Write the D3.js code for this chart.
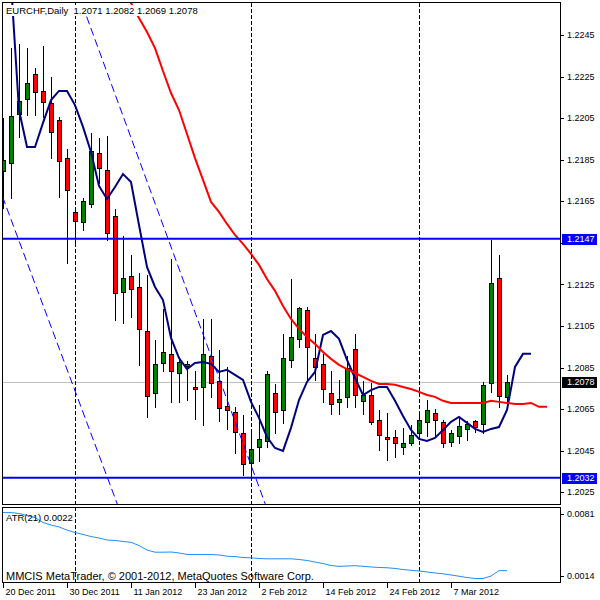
<!DOCTYPE html>
<html>
<head>
<meta charset="utf-8">
<script src="https://cdn.jsdelivr.net/npm/d3@7"></script>
<style>
  body { margin: 0; background: #fff; }
  svg text { font-family: "Liberation Sans", Arial, sans-serif; }
</style>
</head>
<body>
<div id="chart"></div>
<script>
// EURCHF daily bars starting 20 Dec 2011 (one entry per bar)
const opens = [1.21796, 1.21834, 1.2207, 1.22142, 1.22262, 1.22181, 1.22123, 1.22041, 1.21858, 1.21599,
  1.21551, 1.21637, 1.21882, 1.21801, 1.21579, 1.21214, 1.21291, 1.21238, 1.21026, 1.20728,
  1.20872, 1.20916, 1.20824, 1.20868, 1.20757, 1.20757, 1.20906, 1.20786, 1.20666, 1.20637,
  1.20536, 1.20391, 1.20468, 1.20497, 1.20728, 1.20646, 1.20887, 1.20988, 1.21127, 1.20897,
  1.20868, 1.20728, 1.20685, 1.20709, 1.2094, 1.2069, 1.20718, 1.20598, 1.20516, 1.20516,
  1.20468, 1.20488, 1.20536, 1.20589, 1.20632, 1.20589, 1.20492, 1.20521, 1.20555, 1.20593,
  1.20579, 1.20776, 1.21281, 1.2071];
const highs = [1.22056, 1.22392, 1.22412, 1.22392, 1.22296, 1.22402, 1.22253, 1.2206, 1.21907, 1.21628,
  1.21671, 1.21983, 1.21959, 1.21969, 1.21618, 1.21488, 1.21397, 1.2131, 1.213, 1.20988,
  1.21137, 1.21377, 1.20906, 1.20887, 1.20839, 1.21089, 1.21089, 1.2094, 1.20858, 1.20666,
  1.20627, 1.20555, 1.20675, 1.20839, 1.20776, 1.21017, 1.21281, 1.21146, 1.21146, 1.21017,
  1.2092, 1.20839, 1.20795, 1.20911, 1.21017, 1.20791, 1.20781, 1.20651, 1.20637, 1.20555,
  1.20564, 1.20579, 1.20646, 1.20699, 1.20656, 1.20603, 1.20555, 1.20613, 1.20598, 1.20603,
  1.20786, 1.2147, 1.21397, 1.2082];
const lows = [1.21618, 1.21666, 1.21959, 1.22065, 1.22065, 1.22056, 1.21858, 1.21671, 1.21353, 1.2145,
  1.21512, 1.21623, 1.21738, 1.21464, 1.21079, 1.21065, 1.21094, 1.20863, 1.20613, 1.20661,
  1.20834, 1.20685, 1.20685, 1.20694, 1.20603, 1.20574, 1.20709, 1.20593, 1.20555, 1.20439,
  1.20334, 1.2032, 1.20401, 1.20468, 1.20536, 1.20584, 1.20853, 1.20949, 1.20791, 1.20791,
  1.20685, 1.20627, 1.20627, 1.20661, 1.20661, 1.20627, 1.20579, 1.20454, 1.20406, 1.2042,
  1.20435, 1.20478, 1.20516, 1.20521, 1.20521, 1.20468, 1.20473, 1.20488, 1.20502, 1.2054,
  1.20536, 1.20733, 1.20661, 1.2069];
const closes = [1.21849, 1.2206, 1.22133, 1.22219, 1.22176, 1.22128, 1.21983, 1.21844, 1.21704, 1.21555,
  1.21652, 1.21892, 1.2181, 1.21498, 1.21209, 1.21281, 1.21228, 1.21036, 1.20714, 1.20868,
  1.20925, 1.20834, 1.20877, 1.20858, 1.20747, 1.20916, 1.20776, 1.20656, 1.20646, 1.2054,
  1.20387, 1.20459, 1.20507, 1.20819, 1.20637, 1.20897, 1.20997, 1.21137, 1.20949, 1.20853,
  1.20747, 1.20675, 1.20699, 1.20848, 1.20718, 1.20718, 1.20589, 1.20526, 1.20507, 1.20488,
  1.20488, 1.20526, 1.20598, 1.20646, 1.20598, 1.20488, 1.20536, 1.20569, 1.20579, 1.20564,
  1.20767, 1.21257, 1.20714, 1.2078];

// moving averages (navy one runs 3 bars past the last bar, red one 5 bars)
const maFast = [1.22907, 1.227, 1.22089, 1.21911, 1.21911, 1.22027, 1.22137, 1.22181, 1.22181, 1.22113,
  1.22008, 1.21887, 1.21724, 1.21661, 1.21719, 1.21781, 1.21743, 1.21536, 1.21334, 1.21238,
  1.21175, 1.20993, 1.20896, 1.20843, 1.20872, 1.20877, 1.20868, 1.20829, 1.20839, 1.20815,
  1.20791, 1.20685, 1.20608, 1.20516, 1.20463, 1.20449, 1.2056, 1.20694, 1.20781, 1.20829,
  1.21007, 1.21026, 1.20988, 1.20887, 1.208, 1.20718, 1.20742, 1.20757, 1.20757, 1.2069,
  1.20617, 1.2055, 1.20507, 1.20497, 1.20512, 1.2055, 1.20589, 1.20613, 1.20584, 1.20555,
  1.2054, 1.20555, 1.20564, 1.20646, 1.20853, 1.20916, 1.20916];
const maSlowStart = 15;
const maSlow = [1.22681, 1.22604, 1.22532, 1.22464, 1.22387, 1.22277, 1.22171, 1.22089, 1.21974, 1.21858,
  1.21753, 1.21647, 1.21599, 1.21541, 1.21488, 1.21445, 1.21397, 1.21344, 1.21276, 1.21219,
  1.21146, 1.21084, 1.21036, 1.20997, 1.20964, 1.20925, 1.20892, 1.20863, 1.20843, 1.20824,
  1.20805, 1.20786, 1.20771, 1.20771, 1.20767, 1.20757, 1.20747, 1.20733, 1.20718, 1.20709,
  1.2069, 1.2068, 1.2068, 1.2068, 1.2068, 1.2068, 1.2069, 1.20685, 1.2068, 1.20675,
  1.20675, 1.2068, 1.20661, 1.20661];

// ATR(21)
const atr = [0.00809, 0.00809, 0.0080, 0.0078, 0.00758, 0.00708, 0.00683, 0.00663, 0.00632, 0.00607,
  0.00587, 0.00566, 0.00551, 0.00531, 0.00526, 0.00516, 0.00507, 0.00475, 0.00429, 0.00407,
  0.00407, 0.00409, 0.00399, 0.00384, 0.00384, 0.00384, 0.00384, 0.00379, 0.00366, 0.00363,
  0.00353, 0.0035, 0.00343, 0.0034, 0.0034, 0.0034, 0.0034, 0.00333, 0.00323, 0.00307,
  0.00292, 0.00272, 0.00263, 0.00267, 0.0027, 0.00264, 0.00257, 0.00252, 0.00249, 0.00242,
  0.00231, 0.00223, 0.00216, 0.00206, 0.00196, 0.00188, 0.00176, 0.00163, 0.0015, 0.0014,
  0.0014, 0.00165, 0.0022, 0.0022];

// axis labels and objects
const dateLabels = ["20 Dec 2011", "30 Dec 2011", "11 Jan 2012", "23 Jan 2012", "2 Feb 2012", "14 Feb 2012", "24 Feb 2012", "7 Mar 2012"];
const dateLabelBars = [0, 8, 16, 24, 32, 40, 48, 56];
const separatorBars = [9, 31, 52];
const priceTicks = [1.2025, 1.2045, 1.2065, 1.2085, 1.2105, 1.2125, 1.2145, 1.2165, 1.2185, 1.2205, 1.2225, 1.2245];
const levels = [1.2147, 1.2032];
const bid = 1.2078;
const channelA = [[10, 1.22586], [32, 1.20276]];
const channelB = [[0, 1.21666], [14, 1.20223]];
const atrTicks = [0.0081, 0.0014];
const title = "EURCHF,Daily  1.2071 1.2082 1.2069 1.2078";

const width = 600, height = 600;
const left = 2, right = 560, mainTop = 2, mainBottom = 504, subTop = 507, subBottom = 582;

const svg = d3.select("#chart")
  .append("svg")
  .attr("width", width)
  .attr("height", height)
  .style("display", "block");

// scales
const x = d3.scaleLinear().domain([0, 63]).range([3, 507]);
const px = (i) => Math.round(x(i)) + 0.5;
const y = d3.scaleLinear().domain([1.2025, 1.2245]).range([492.3, 35]);
const ya = d3.scaleLinear().domain([0.0014, 0.0081]).range([578.5, 512.5]);
const py = (v) => Math.round(y(v)) + 0.5;

svg.append("clipPath").attr("id", "clipMain")
  .append("rect").attr("x", left + 1).attr("y", mainTop + 1)
  .attr("width", right - left - 1).attr("height", mainBottom - mainTop - 1);
svg.append("clipPath").attr("id", "clipSub")
  .append("rect").attr("x", left + 1).attr("y", subTop + 1)
  .attr("width", right - left - 1).attr("height", subBottom - subTop - 1);

const main = svg.append("g").attr("clip-path", "url(#clipMain)");

// bid line (behind bars)
main.append("line")
  .attr("x1", left).attr("x2", right)
  .attr("y1", py(bid)).attr("y2", py(bid))
  .attr("stroke", "#c0c0c0").attr("shape-rendering", "crispEdges");

// candles
const bars = d3.range(opens.length).map((i) => ({
  i: i, o: opens[i], h: highs[i], l: lows[i], c: closes[i]
}));

main.selectAll(".wick")
  .data(bars)
  .enter()
  .append("line")
  .attr("x1", (d) => px(d.i)).attr("x2", (d) => px(d.i))
  .attr("y1", (d) => py(d.h)).attr("y2", (d) => py(d.l))
  .attr("stroke", "black")
  .attr("shape-rendering", "crispEdges");

main.selectAll(".body")
  .data(bars)
  .enter()
  .append("rect")
  .attr("x", (d) => px(d.i) - 2)
  .attr("y", (d) => py(Math.max(d.o, d.c)))
  .attr("width", 4)
  .attr("height", (d) => py(Math.min(d.o, d.c)) - py(Math.max(d.o, d.c)))
  .attr("fill", (d) => d.c > d.o ? "#008000" : "#ff0000")
  .attr("stroke", "black")
  .attr("shape-rendering", "crispEdges");

// moving averages
const lineFast = d3.line().x((d, i) => x(i)).y((d) => y(d));
main.append("path")
  .attr("d", lineFast(maFast))
  .attr("fill", "none").attr("stroke", "#000080").attr("stroke-width", 2);

const lineSlow = d3.line().x((d, i) => x(i + maSlowStart)).y((d) => y(d));
main.append("path")
  .attr("d", lineSlow(maSlow))
  .attr("fill", "none").attr("stroke", "#ff0000").attr("stroke-width", 2);

// trend channel, extended past its anchor bars
[channelA, channelB].forEach((pts) => {
  const slope = (pts[1][1] - pts[0][1]) / (pts[1][0] - pts[0][0]);
  const at = (i) => pts[0][1] + slope * (i - pts[0][0]);
  main.append("line")
    .attr("x1", x(-20)).attr("y1", y(at(-20)))
    .attr("x2", x(70)).attr("y2", y(at(70)))
    .attr("stroke", "#0000ff").attr("stroke-width", 1)
    .attr("stroke-dasharray", "8,4");
});

// horizontal levels
main.selectAll(".level")
  .data(levels)
  .enter()
  .append("line")
  .attr("x1", left).attr("x2", right)
  .attr("y1", (d) => y(d)).attr("y2", (d) => y(d))
  .attr("stroke", "#0000ff").attr("stroke-width", 2);

// period separators through both panels
svg.selectAll(".sep")
  .data(separatorBars)
  .enter()
  .append("line")
  .attr("x1", (d) => px(d)).attr("x2", (d) => px(d))
  .attr("y1", mainTop + 1).attr("y2", subBottom)
  .attr("stroke", "black")
  .attr("stroke-dasharray", "4,2")
  .attr("shape-rendering", "crispEdges");

// title with white backing
const titleText = svg.append("text")
  .attr("x", 6).attr("y", 14)
  .attr("font-size", "9.5px")
  .attr("fill", "black")
  .attr("xml:space", "preserve")
  .style("white-space", "pre")
  .text(title);
const tb = titleText.node().getBBox();
svg.insert("rect", "text")
  .attr("x", tb.x - 1).attr("y", tb.y)
  .attr("width", tb.width + 2).attr("height", tb.height)
  .attr("fill", "white");

// ATR panel
const sub = svg.append("g").attr("clip-path", "url(#clipSub)");
sub.append("path")
  .attr("d", d3.line().x((d, i) => x(i)).y((d) => ya(d))(atr))
  .attr("fill", "none").attr("stroke", "#1e90ff").attr("stroke-width", 1);

svg.append("text")
  .attr("x", 6).attr("y", 521)
  .attr("font-size", "9.5px")
  .text("ATR(21) " + atr[atr.length - 1].toFixed(4));
svg.append("text")
  .attr("x", 6).attr("y", 580)
  .attr("font-size", "11px")
  .text("MMCIS MetaTrader, © 2001-2012, MetaQuotes Software Corp.");

// panel frames
[[mainTop, mainBottom], [subTop, subBottom]].forEach((p) => {
  svg.append("rect")
    .attr("x", left + 0.5).attr("y", p[0] + 0.5)
    .attr("width", right - left).attr("height", p[1] - p[0])
    .attr("fill", "none").attr("stroke", "black")
    .attr("shape-rendering", "crispEdges");
});

// price axis (a tick label hidden under a price tag is left out)
const tags = levels.map((v) => ({ v: v, fill: "#0000ff" })).concat([{ v: bid, fill: "black" }]);
const yAxis = svg.append("g");
priceTicks.forEach((t) => {
  yAxis.append("line")
    .attr("x1", right).attr("x2", right + 4)
    .attr("y1", py(t)).attr("y2", py(t))
    .attr("stroke", "black").attr("shape-rendering", "crispEdges");
  const covered = tags.some((g) => Math.abs(y(g.v) - y(t)) < 9);
  if (!covered) {
    yAxis.append("text")
      .attr("x", right + 7).attr("y", y(t)).attr("dy", "0.35em")
      .attr("font-size", "9px")
      .text(t.toFixed(4));
  }
});

// price tags
tags.forEach((t) => {
  svg.append("rect")
    .attr("x", right + 2).attr("y", Math.round(y(t.v)) - 5)
    .attr("width", 35).attr("height", 11)
    .attr("fill", t.fill);
  svg.append("text")
    .attr("x", right + 7).attr("y", y(t.v)).attr("dy", "0.35em")
    .attr("font-size", "9px").attr("fill", "white")
    .text(t.v.toFixed(4));
});

// ATR axis
atrTicks.forEach((t) => {
  const ty = Math.min(Math.max(ya(t), subTop + 7), subBottom - 6);
  svg.append("line")
    .attr("x1", right).attr("x2", right + 4)
    .attr("y1", Math.round(ty) + 0.5).attr("y2", Math.round(ty) + 0.5)
    .attr("stroke", "black").attr("shape-rendering", "crispEdges");
  svg.append("text")
    .attr("x", right + 7).attr("y", ty).attr("dy", "0.35em")
    .attr("font-size", "9px")
    .text(t.toFixed(4));
});

// date axis
dateLabels.forEach((lab, k) => {
  const bx = px(dateLabelBars[k]);
  svg.append("line")
    .attr("x1", bx).attr("x2", bx)
    .attr("y1", subBottom).attr("y2", subBottom + 6)
    .attr("stroke", "black").attr("shape-rendering", "crispEdges");
  svg.append("text")
    .attr("x", bx + 2).attr("y", 595)
    .attr("font-size", "9px")
    .text(lab);
});
</script>
</body>
</html>
